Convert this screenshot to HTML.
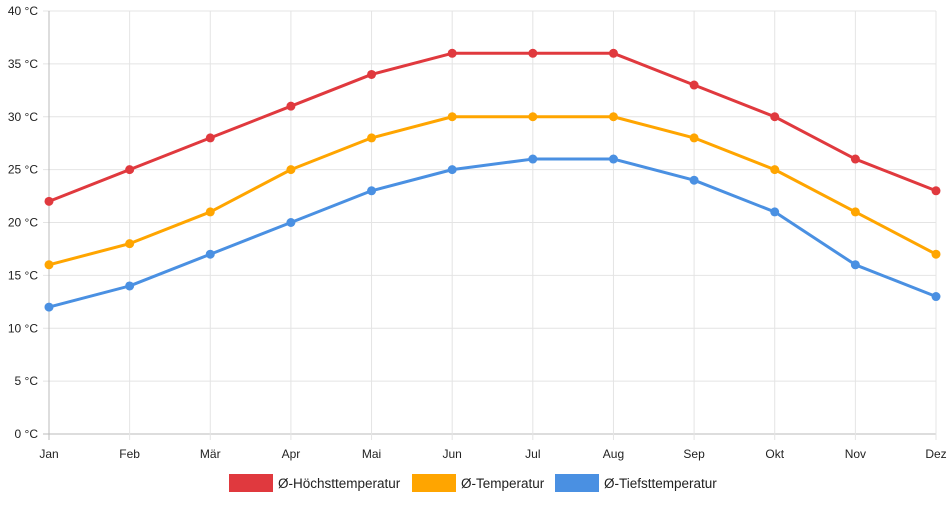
<!DOCTYPE html>
<html><head><meta charset="utf-8"><style>
body{margin:0;background:#fff;width:952px;height:500px;overflow:hidden}
text{font-family:"Liberation Sans",sans-serif;fill:#222}
</style></head><body>
<svg id="chart" width="952" height="500" xmlns="http://www.w3.org/2000/svg">
<g id="grid"></g>
<g id="axes"></g>
<g id="series"></g>
<g id="legend"></g>
</svg>
<script>
const months=["Jan","Feb","Mär","Apr","Mai","Jun","Jul","Aug","Sep","Okt","Nov","Dez"];
const highs=[22,25,28,31,34,36,36,36,33,30,26,23];
const means=[16,18,21,25,28,30,30,30,28,25,21,17];
const lows=[12,14,17,20,23,25,26,26,24,21,16,13];
const yTicks=[0,5,10,15,20,25,30,35,40];
const seriesNames=["Ø-Höchsttemperatur","Ø-Temperatur","Ø-Tiefsttemperatur"];
const colors=["#e0393e","#ffa500","#4a90e2"];
const NS="http://www.w3.org/2000/svg";
const x0=49,x1=936,y0=434,y1=11;
const xs=i=>x0+i*(x1-x0)/(months.length-1);
const ys=v=>y0-(v-0)*(y0-y1)/40;
function mk(tag,attrs,parent){const e=document.createElementNS(NS,tag);for(const k in attrs)e.setAttribute(k,attrs[k]);parent.appendChild(e);return e;}
const grid=document.getElementById('grid'),axes=document.getElementById('axes'),ser=document.getElementById('series'),leg=document.getElementById('legend');
yTicks.forEach(t=>{const y=ys(t);
 const l=mk('line',{x1:x0-6,x2:x1,y1:y,y2:y,stroke:t===0?'#bbb':'#e4e4e4','stroke-width':1},grid);
 
 const tx=mk('text',{x:38,y:y+4,'text-anchor':'end','font-size':12},axes);tx.textContent=t+' °C';
 });
months.forEach((m,i)=>{const x=xs(i);
 const l=mk('line',{x1:x,x2:x,y1:y1,y2:y0+6,stroke:i===0?'#bbb':'#e4e4e4','stroke-width':1},grid);
 
 const tx=mk('text',{x:x,y:458,'text-anchor':'middle','font-size':12},axes);tx.textContent=m;
 });
[highs,means,lows].forEach((d,s)=>{
 const p=mk('polyline',{points:d.map((v,i)=>xs(i)+','+ys(v)).join(' '),fill:'none',stroke:colors[s],'stroke-width':3,'stroke-linejoin':'round'},ser);
 
 d.forEach((v,i)=>{const c=mk('circle',{cx:xs(i),cy:ys(v),r:4.5,fill:colors[s]},ser);
  });});
const lx=[229,412,555];
seriesNames.forEach((n,s)=>{
 const r=mk('rect',{x:lx[s],y:474,width:44,height:18,fill:colors[s]},leg);
 
 const t=mk('text',{x:lx[s]+49,y:488,'font-size':13.5},leg);t.textContent=n;
 });
</script>
</body></html>
